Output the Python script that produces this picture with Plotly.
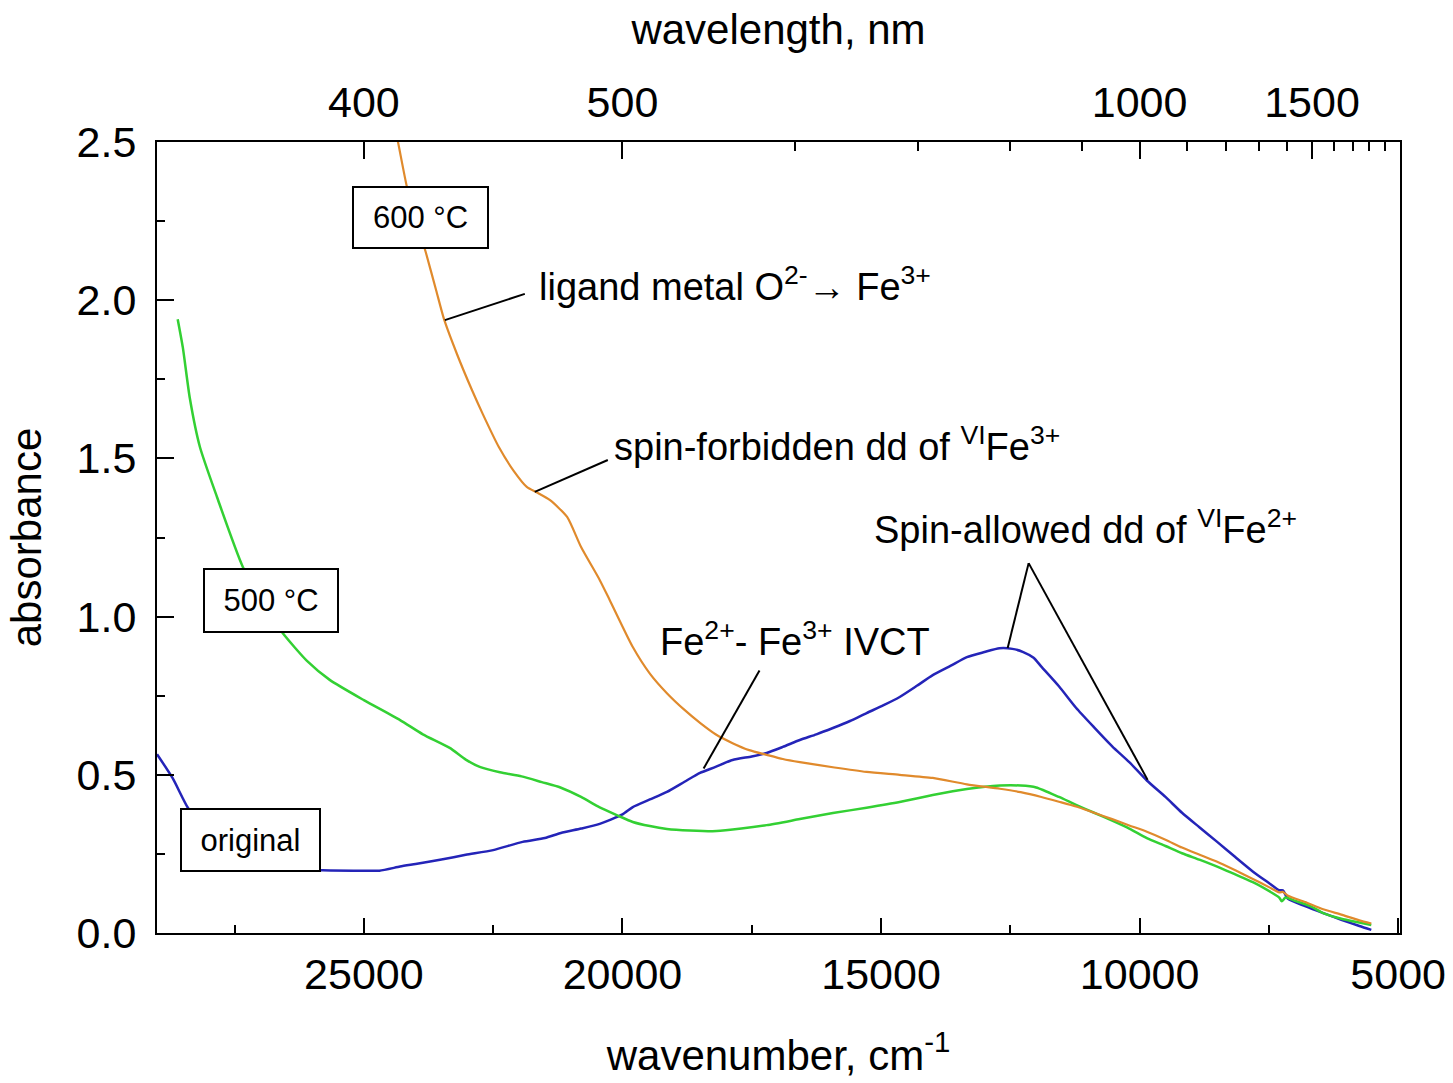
import plotly.graph_objects as go

# ---------------- data ----------------
orig_wn = [29000, 28700, 28400, 28000, 27500, 27000, 26500, 25800, 25200, 24700, 24300, 24000,
           23500, 23030, 22500, 21930, 21500, 21190, 20800, 20440, 20000, 19800, 19470, 19140,
           18800, 18500, 18200, 17870, 17500, 17210, 16900, 16570, 16250, 15930, 15600, 15280,
           14950, 14640, 14300, 14000, 13650, 13340, 13000, 12710, 12460, 12250, 12050, 11900,
           11560, 11230, 10880, 10530, 10200, 9860, 9500, 9180, 8850, 8500, 8150, 7800, 7500,
           7300, 7230, 7130, 6800, 6450, 6100, 5750, 5520]
orig_abs = [0.565, 0.49, 0.395, 0.31, 0.25, 0.215, 0.203, 0.198, 0.197, 0.197, 0.21, 0.218,
            0.232, 0.247, 0.262, 0.288, 0.300, 0.316, 0.330, 0.345, 0.375, 0.398, 0.422, 0.446,
            0.478, 0.506, 0.525, 0.547, 0.558, 0.569, 0.588, 0.610, 0.628, 0.648, 0.670, 0.695,
            0.720, 0.746, 0.782, 0.815, 0.845, 0.872, 0.888, 0.900, 0.898, 0.888, 0.870, 0.842,
            0.780, 0.712, 0.650, 0.590, 0.540, 0.482, 0.430, 0.380, 0.335, 0.288, 0.240, 0.193,
            0.158, 0.135, 0.135, 0.108, 0.085, 0.063, 0.042, 0.022, 0.010]

c500_wn = [28600, 28500, 28365, 28170, 27840, 27340, 26900, 26570, 26100, 25660, 25000, 24300,
           23860, 23340, 23030, 22760, 22370, 21950, 21560, 21200, 20800, 20440, 20100, 19800,
           19470, 19140, 18700, 18180, 17700, 17210, 16570, 15930, 15280, 14640, 14000, 13340,
           12700, 12300, 12000, 11560, 11230, 10880, 10530, 10200, 9860, 9500, 9180, 8850, 8500,
           8150, 7800, 7450, 7300, 7250, 7180, 7000, 6700, 6450, 6100, 5750, 5520]
c500_abs = [1.94, 1.85, 1.69, 1.536, 1.378, 1.157, 1.03, 0.948, 0.86, 0.80, 0.736, 0.673,
            0.628, 0.585, 0.548, 0.525, 0.508, 0.495, 0.477, 0.46, 0.43, 0.397, 0.372, 0.351,
            0.338, 0.329, 0.324, 0.322, 0.330, 0.341, 0.360, 0.379, 0.396, 0.414, 0.436, 0.455,
            0.466, 0.466, 0.460, 0.430, 0.405, 0.380, 0.355, 0.330, 0.300, 0.275, 0.252, 0.232,
            0.210, 0.185, 0.160, 0.128, 0.112, 0.100, 0.112, 0.102, 0.085, 0.063, 0.045, 0.033,
            0.025]

c600_wn = [24420, 24340, 24170, 24000, 23800, 23600, 23450, 23200, 22910, 22700, 22390, 22100,
           21850, 21650, 21400, 21070, 20800, 20440, 20245, 19800, 19470, 19140, 18800, 18500,
           18200, 17870, 17550, 17210, 16900, 16570, 15900, 15280, 14640, 14000, 13340, 12700,
           12300, 11900, 11560, 11230, 10880, 10530, 10200, 9860, 9500, 9180, 8850, 8500, 8150,
           7800, 7500, 7300, 7230, 7130, 6800, 6450, 6100, 5750, 5520]
c600_abs = [2.56, 2.50, 2.36, 2.26, 2.15, 2.03, 1.94, 1.83, 1.716, 1.64, 1.536, 1.46,
            1.41, 1.392, 1.368, 1.315, 1.22, 1.116, 1.052, 0.904, 0.82, 0.758, 0.705, 0.664,
            0.628, 0.600, 0.578, 0.563, 0.550, 0.540, 0.523, 0.509, 0.500, 0.490, 0.470, 0.456,
            0.445, 0.430, 0.415, 0.400, 0.380, 0.360, 0.340, 0.320, 0.295, 0.270, 0.248, 0.225,
            0.198, 0.170, 0.145, 0.128, 0.130, 0.118, 0.098, 0.075, 0.058, 0.040, 0.030]

wn_ticks = [25000, 20000, 15000, 10000, 5000]
nm_major = [400, 500, 1000, 1500]
nm_minor = [600, 700, 800, 900, 1100, 1200, 1300, 1400, 1600, 1700, 1800, 1900]

FONT = "Liberation Sans, Arial, sans-serif"
X_RANGE = [29000, 4965]

fig = go.Figure()
fig.add_trace(go.Scatter(x=orig_wn, y=orig_abs, mode="lines", name="original",
                         line=dict(color="#2424B8", width=2.5, shape="spline", smoothing=0.6)))
fig.add_trace(go.Scatter(x=c500_wn, y=c500_abs, mode="lines", name="500 °C",
                         line=dict(color="#33D033", width=2.5, shape="spline", smoothing=0.6)))
fig.add_trace(go.Scatter(x=c600_wn, y=c600_abs, mode="lines", name="600 °C",
                         line=dict(color="#E08A2C", width=2.2, shape="spline", smoothing=0.6)))
# carrier trace for the top (wavelength) axis
fig.add_trace(go.Scatter(x=X_RANGE, y=[None, None], xaxis="x2", mode="lines",
                         showlegend=False, hoverinfo="skip"))

fig.update_layout(
    width=1453, height=1083,
    margin=dict(l=157, r=53, t=142, b=150, autoexpand=False),
    paper_bgcolor="white", plot_bgcolor="white",
    showlegend=False,
    font=dict(family=FONT, color="black"),
    xaxis=dict(
        range=X_RANGE, tickmode="array", tickvals=wn_ticks,
        ticktext=[str(v) for v in wn_ticks],
        ticks="inside", ticklen=15, tickwidth=2, tickcolor="black",
        minor=dict(dtick=2500, ticks="inside", ticklen=8, tickwidth=2, tickcolor="black"),
        showline=True, linewidth=2, linecolor="black", mirror=True,
        showgrid=False, zeroline=False,
        tickfont=dict(size=43), ticklabelstandoff=2,
        title=dict(text="wavenumber, cm<sup>-1</sup>", font=dict(size=42), standoff=44),
    ),
    xaxis2=dict(
        overlaying="x", side="top", range=X_RANGE,
        tickmode="array", tickvals=[1e7 / v for v in nm_major],
        ticktext=[str(v) for v in nm_major],
        ticks="inside", ticklen=17, tickwidth=2, tickcolor="black",
        minor=dict(tickmode="array", tickvals=[1e7 / v for v in nm_minor],
                   ticks="inside", ticklen=9, tickwidth=2, tickcolor="black"),
        showline=True, linewidth=2, linecolor="black",
        showgrid=False, zeroline=False,
        tickfont=dict(size=43), ticklabelstandoff=6,
        title=dict(text="wavelength, nm", font=dict(size=42), standoff=20),
    ),
    yaxis=dict(
        range=[0, 2.5], dtick=0.5, tickformat=".1f",
        ticks="inside", ticklen=17, tickwidth=2, tickcolor="black",
        minor=dict(dtick=0.25, ticks="inside", ticklen=8, tickwidth=2, tickcolor="black"),
        showline=True, linewidth=2, linecolor="black", mirror=True,
        showgrid=False, zeroline=False,
        tickfont=dict(size=43), ticklabelstandoff=10,
        title=dict(text="absorbance", font=dict(size=42), standoff=22),
    ),
)

# leader lines
leaders = [
    (23434, 1.937, 21888, 2.020),
    (21695, 1.394, 20283, 1.495),
    (18430, 0.520, 17350, 0.830),
    (12551, 0.901, 12146, 1.169),
    (12146, 1.169, 9845, 0.484),
]
for x0, y0, x1, y1 in leaders:
    fig.add_shape(type="line", xref="x", yref="y", x0=x0, y0=y0, x1=x1, y1=y1,
                  line=dict(color="black", width=2))

ann_font = dict(family=FONT, size=38, color="black")
texts = [
    ("ligand metal O<sup>2-</sup>→ Fe<sup>3+</sup>", 21656, 2.05),
    ("spin-forbidden dd of <sup>VI</sup>Fe<sup>3+</sup>", 20206, 1.545),
    ("Spin-allowed dd of <sup>VI</sup>Fe<sup>2+</sup>", 15180, 1.283),
    ("Fe<sup>2+</sup>- Fe<sup>3+</sup> IVCT", 19317, 0.93),
]
for t, x, y in texts:
    fig.add_annotation(text=t, x=x, y=y, xref="x", yref="y", xanchor="left",
                       yanchor="middle", showarrow=False, font=ann_font)

box_font = dict(family=FONT, size=31, color="black")
boxes = [
    ("600 °C", 23898, 2.26, 133, 59),
    ("500 °C", 26798, 1.051, 132, 61),
    ("original", 27194, 0.294, 137, 60),
]
for t, x, y, w, h in boxes:
    fig.add_annotation(text=t, x=x, y=y, xref="x", yref="y", xanchor="center",
                       yanchor="middle", showarrow=False, font=box_font,
                       bgcolor="white", bordercolor="black", borderwidth=2,
                       borderpad=0, width=w, height=h)

fig.write_html("out.html")
